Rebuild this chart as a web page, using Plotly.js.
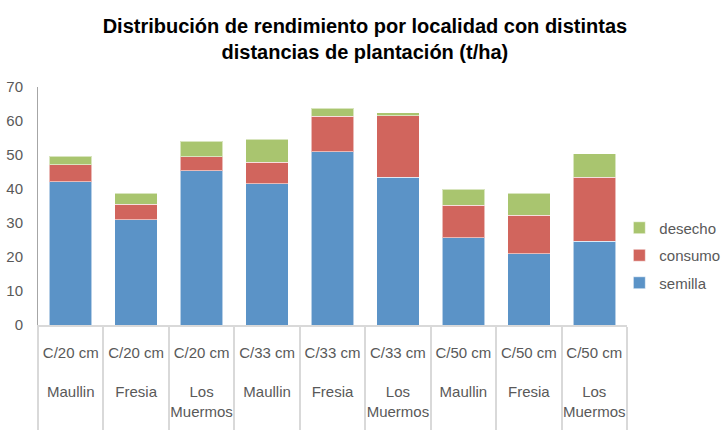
<!DOCTYPE html>
<html>
<head>
<meta charset="utf-8">
<script src="https://cdn.plot.ly/plotly-3.0.1.min.js"></script>
<style>html,body{margin:0;padding:0;background:#fff;}#chart{width:724px;height:430px;}</style>
</head>
<body>
<div id="chart"></div>
<script>
const spacing = ["C/20 cm","C/20 cm","C/20 cm","C/33 cm","C/33 cm","C/33 cm","C/50 cm","C/50 cm","C/50 cm"];
const localidad = ["Maullin","Fresia","Los<br>Muermos","Maullin","Fresia","Los<br>Muermos","Maullin","Fresia","Los<br>Muermos"];
const semilla = [42.2, 31.0, 45.4, 41.5, 50.9, 43.4, 25.6, 21.0, 24.6];
const consumo = [5.0, 4.5, 4.1, 6.4, 10.5, 18.2, 9.6, 11.3, 18.8];
const desecho = [2.4, 3.3, 4.6, 6.8, 2.3, 0.9, 4.8, 6.4, 6.9];

const cats = spacing.map((s, i) => s + "<br><br>" + localidad[i]);
const lineStyle = {color: "rgba(255,255,255,0.55)", width: 1};

const traces = [
  {type: "bar", name: "semilla", x: cats, y: semilla, legendgroup: "a", legendrank: 3, marker: {color: "#5b93c7", line: lineStyle}},
  {type: "bar", name: "consumo", x: cats, y: consumo, legendgroup: "b", legendrank: 2, marker: {color: "#d1655d", line: lineStyle}},
  {type: "bar", name: "desecho", x: cats, y: desecho, legendgroup: "c", legendrank: 1, marker: {color: "#a9c56f", line: lineStyle}}
];

const layout = {
  width: 724, height: 430,
  paper_bgcolor: "#ffffff", plot_bgcolor: "#ffffff",
  font: {family: "Arial, 'Liberation Sans', sans-serif", size: 15, color: "#595959"},
  margin: {l: 38, r: 97, t: 87, b: 105, pad: 0, autoexpand: false},
  barmode: "stack",
  bargap: 0.35,
  hovermode: false,
  title: {
    text: "<b>Distribución de rendimiento por localidad con distintas<br>distancias de plantación (t/ha)</b>",
    font: {family: "Arial, 'Liberation Sans', sans-serif", size: 20, color: "#000000"},
    x: 0.555, xanchor: "center", xref: "paper",
    y: 0.923, yanchor: "middle", yref: "container"
  },
  xaxis: {
    type: "category",
    showgrid: false, zeroline: false,
    showline: true, linecolor: "#d9d9d9", linewidth: 2,
    ticks: "outside", tickson: "boundaries", ticklen: 104, tickwidth: 2, tickcolor: "#d9d9d9",
    tickangle: 0,
    ticklabelstandoff: 13,
    tickfont: {size: 15, color: "#595959"},
    fixedrange: true
  },
  yaxis: {
    range: [0, 70], dtick: 10, tick0: 0,
    showgrid: false, zeroline: false,
    showline: true, linecolor: "#a6a6a6", linewidth: 1,
    ticks: "", ticklabelstandoff: 11,
    tickfont: {size: 15, color: "#595959"},
    fixedrange: true
  },
  showlegend: true,
  legend: {
    x: 0.987, xanchor: "left", xref: "paper",
    y: 0.292, yanchor: "middle",
    traceorder: "grouped",
    tracegroupgap: 5,
    font: {size: 15, color: "#595959"},
    bgcolor: "rgba(0,0,0,0)"
  }
};

Plotly.newPlot("chart", traces, layout, {displayModeBar: false, staticPlot: true});
</script>
</body>
</html>
